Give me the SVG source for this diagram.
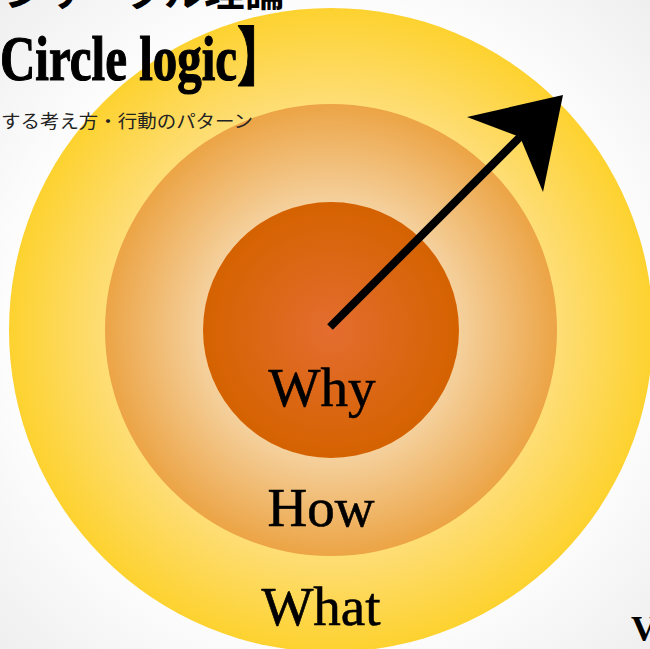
<svg xmlns="http://www.w3.org/2000/svg" width="650" height="649" viewBox="0 0 650 649">
<defs>
<radialGradient id="bg" cx="0.5" cy="0.5" r="0.75">
<stop offset="0.6" stop-color="#ffffff"/>
<stop offset="1" stop-color="#ececec"/>
</radialGradient>
<radialGradient id="gOuter" gradientUnits="userSpaceOnUse" cx="331" cy="330" r="322">
<stop offset="0.6" stop-color="#fee18e"/>
<stop offset="1" stop-color="#fdd22f"/>
</radialGradient>
<radialGradient id="gMid" gradientUnits="userSpaceOnUse" cx="331" cy="330" r="226">
<stop offset="0.5" stop-color="#f6d7aa"/>
<stop offset="1" stop-color="#eca445"/>
</radialGradient>
<radialGradient id="gInner" gradientUnits="userSpaceOnUse" cx="331" cy="330" r="128">
<stop offset="0" stop-color="#e46d30"/>
<stop offset="1" stop-color="#d56200"/>
</radialGradient>
</defs>
<style>
.lbl{font-family:"Liberation Serif","DejaVu Serif",serif;font-size:55px;fill:#000;stroke:#000;stroke-width:0.6;text-anchor:middle}
.title{font-family:"Liberation Serif","Noto Sans CJK JP",serif;font-weight:bold;fill:#000}
.sub{font-family:"Noto Sans CJK JP",sans-serif;font-size:18px;fill:#222}
</style>
<rect width="650" height="649" fill="url(#bg)"/>
<g id="outer"><circle cx="331" cy="330" r="322" fill="url(#gOuter)"/></g>
<g id="middle"><circle cx="331" cy="330" r="226" fill="url(#gMid)"/></g>
<g id="inner"><circle cx="331" cy="330" r="128" fill="url(#gInner)"/></g>
<g id="connectors">
<line x1="330" y1="327" x2="528" y2="129" stroke="#000" stroke-width="8"/>
<path d="M563,95 L467,117 L520,137 L543,192 Z" fill="#000"/>
</g>
<g id="labels">
<text class="lbl" x="322" y="406">Why</text>
<text class="lbl" x="321" y="526">How</text>
<text class="lbl" x="321" y="625">What</text>
</g>
<g id="title">
<text class="title" x="4" y="6" font-size="40" font-family="Noto Sans CJK JP" textLength="281" lengthAdjust="spacingAndGlyphs">ンサークル理論</text>
<text class="title" x="0" y="80" font-size="64" stroke="#000" stroke-width="1.2" textLength="286" lengthAdjust="spacingAndGlyphs">Circle logic】</text>
<text class="sub" x="1" y="128" textLength="252" lengthAdjust="spacingAndGlyphs">する考え方・行動のパターン</text>
<text class="title" x="631" y="641" font-size="36">V</text>
</g>
</svg>
